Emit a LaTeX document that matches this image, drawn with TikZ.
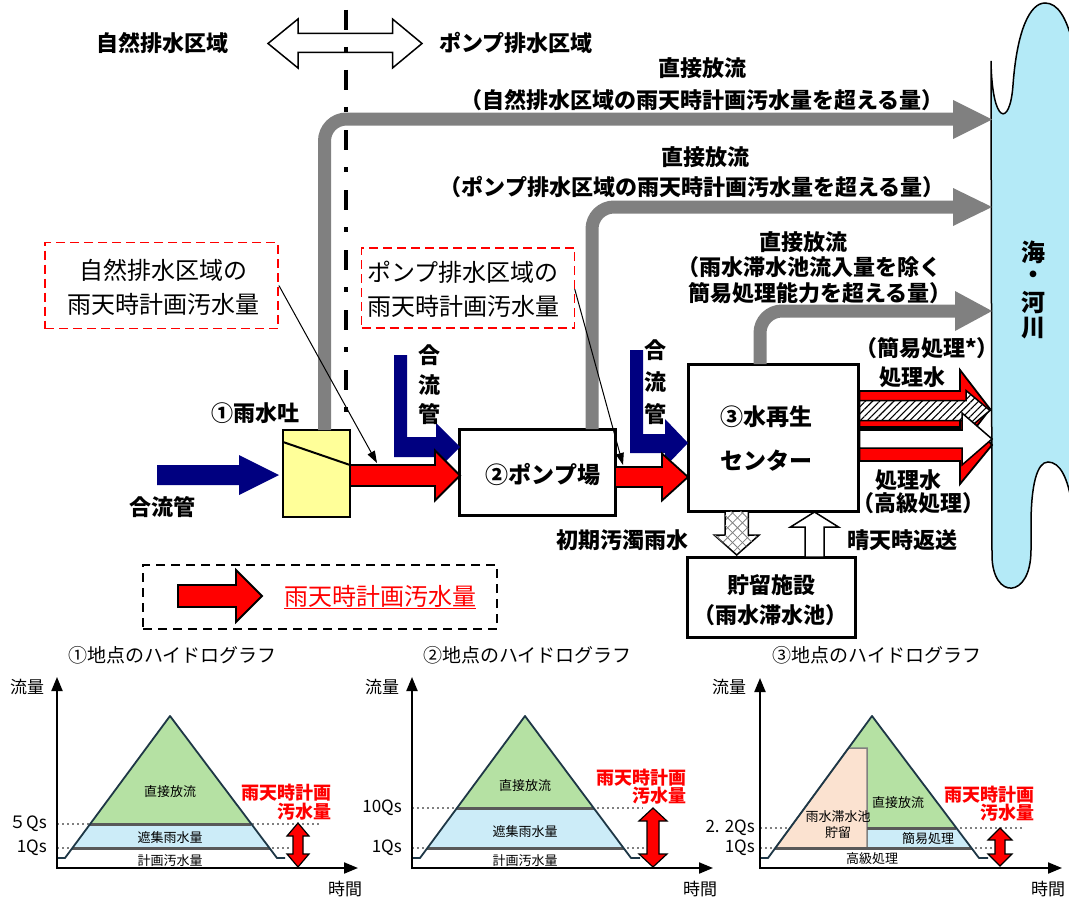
\documentclass[tikz,border=0pt]{standalone}
\usepackage{fontspec}
\setmainfont{Noto Sans CJK JP}
\usetikzlibrary{arrows.meta,patterns.meta}
\definecolor{navy}{RGB}{0,0,128}
\definecolor{grayarrow}{RGB}{128,128,128}
\definecolor{yel}{RGB}{255,255,153}
\definecolor{sea}{RGB}{180,234,247}
\definecolor{ggreen}{RGB}{181,225,163}
\definecolor{gblue}{RGB}{204,236,248}
\definecolor{gpeach}{RGB}{251,226,208}
\definecolor{gline}{RGB}{89,89,89}
\definecolor{goutline}{RGB}{30,55,70}
% horizontal block arrow: style, x0, xhead, xtip, ycenter, shaft half, head half
\newcommand{\harrow}[7]{\path[#1] (#2,{#5-#6}) -- (#3,{#5-#6}) -- (#3,{#5-#7}) -- (#4,#5) -- (#3,{#5+#7}) -- (#3,{#5+#6}) -- (#2,{#5+#6}) -- cycle;}
% vertical block arrow: style, y0, yhead, ytip, xcenter, shaft half, head half
\newcommand{\varrow}[7]{\path[#1] ({#5-#6},#2) -- ({#5-#6},#3) -- ({#5-#7},#3) -- (#5,#4) -- ({#5+#7},#3) -- ({#5+#6},#3) -- ({#5+#6},#2) -- cycle;}
% vertical double arrow: style, ytop, ybottom, xcenter, shaft half, head half, head length
\newcommand{\vdarrow}[7]{\path[#1] (#4,#2) -- ({#4+#6},{#2+#7}) -- ({#4+#5},{#2+#7}) -- ({#4+#5},{#3-#7}) -- ({#4+#6},{#3-#7}) -- (#4,#3) -- ({#4-#6},{#3-#7}) -- ({#4-#5},{#3-#7}) -- ({#4-#5},{#2+#7}) -- ({#4-#6},{#2+#7}) -- cycle;}
\tikzset{
 bl/.style={font=\bfseries\fontsize{22}{26}\selectfont, inner sep=0pt},
 rg/.style={font=\fontsize{24}{28}\selectfont, inner sep=0pt},
 blk/.style={draw=black, line width=3pt, fill=white, inner sep=0pt},
 redbox/.style={draw=red, line width=1.8pt, dash pattern=on 9pt off 5pt, inner sep=0pt},
 grayline/.style={draw=grayarrow, line width=13pt, rounded corners=22pt},
 redarrow/.style={fill=red, draw=black, line width=1.8pt},
 bluearrow/.style={fill=navy},
 whitearrow/.style={fill=white, draw=black, line width=1.5pt},
 hatcharrow/.style={preaction={fill=white}, pattern={Lines[angle=45,distance=5pt,line width=1.1pt]}, pattern color=black, draw=black, line width=1.5pt},
 crossarrow/.style={preaction={fill=white}, pattern={Lines[angle=45,distance=7pt,line width=0.8pt]}, pattern color=gray, postaction={pattern={Lines[angle=-45,distance=7pt,line width=0.8pt]}, pattern color=gray}, draw=black, line width=1.5pt},
 callout/.style={draw=black, line width=1pt, -{Triangle[length=12pt,width=8pt]}},
 gtitle/.style={font=\fontsize{19}{21}\selectfont, inner sep=0pt},
 glab/.style={font=\fontsize{17}{19}\selectfont, inner sep=0pt},
 gyl/.style={font=\fontsize{17}{19}\selectfont, inner sep=0pt, anchor=east},
 gaxis/.style={draw=black, line width=2pt, -{Triangle[length=14pt,width=11pt]}},
 gsmall/.style={font=\fontsize{13}{15}\selectfont, inner sep=0pt},
 gred/.style={font=\bfseries\fontsize{18}{20}\selectfont, text=red, inner sep=0pt, anchor=east},
 gdot/.style={draw=gray, line width=1.5pt, dash pattern=on 2pt off 3pt},
 glevel/.style={draw=gline, line width=3pt},
 gout/.style={draw=goutline, line width=1.8pt, line join=round},
 gdbl/.style={fill=red, draw=black, line width=1.2pt},
}
\begin{document}
\begin{tikzpicture}[x=1pt,y=-1pt]
\useasboundingbox (0,0) rectangle (1069,899);
\clip (0,0) rectangle (1069,899);
\fill[white] (0,0) rectangle (1069,899);

% sea / river
\path[fill=sea, draw=black, line width=1.5pt] (991,61) .. controls (992,125) and (1010,128) .. (1013,85) .. controls (1017,30) and (1030,3) .. (1045,3) .. controls (1058,3) and (1066,18) .. (1072,40) -- (1072,505) .. controls (1068,478) and (1060,462) .. (1048,462) .. controls (1037,462) and (1031,485) .. (1031,525) -- (1031,550) .. controls (1031,600) and (992,600) .. (992,555) -- cycle;
\node[font=\bfseries\fontsize{24}{26}\selectfont, inner sep=0pt] (s1) at (1033,252) {海};
\node[font=\bfseries\fontsize{24}{26}\selectfont, inner sep=0pt] (s2) at (1033,277) {・};
\node[font=\bfseries\fontsize{24}{26}\selectfont, inner sep=0pt] (s3) at (1033,303) {河};
\node[font=\bfseries\fontsize{24}{26}\selectfont, inner sep=0pt] (s4) at (1033,328) {川};

% boxes
\node[draw=black, line width=2.5pt, fill=yel, minimum width=67pt, minimum height=87pt, inner sep=0pt] (uy) at (316.5,473.5) {};
\draw[line width=2pt] (283,442) -- (350,465);
\node[blk, minimum width=156pt, minimum height=86pt] (pump) at (537,472) {};
\node[blk, minimum width=170pt, minimum height=147pt] (wrc) at (773,437.5) {};
\node[blk, minimum width=168pt, minimum height=80pt] (stor) at (771,597) {};

% gray direct-discharge arrows
\draw[grayline] (324.5,430) -- (324.5,119) -- (955,119);
\fill[grayarrow] (953,100) -- (992,119.5) -- (953,139) -- cycle;
\draw[grayline] (592,429) -- (592,207) -- (955,207);
\fill[grayarrow] (953,188) -- (992,207) -- (953,226) -- cycle;
\draw[grayline] (760,364) -- (760,311) -- (957,311);
\fill[grayarrow] (955,291) -- (992,311) -- (955,331) -- cycle;

% area double arrow and boundary
\path[whitearrow] (268,43.5) -- (298,19) -- (298,33.5) -- (392.5,33.5) -- (392.5,19) -- (422,43.5) -- (392.5,68) -- (392.5,52.5) -- (298,52.5) -- (298,68) -- cycle;
\draw[line width=4pt, dash pattern=on 20pt off 17pt on 5pt off 18pt] (346,10) -- (346,428);

\node[bl] (lnat) at (162,43) {自然排水区域};
\node[bl] (lpmp) at (516,43) {ポンプ排水区域};
\node[bl] at (702,68) {直接放流};
\node[bl] at (702,100) {（自然排水区域の雨天時計画汚水量を超える量）};
\node[bl] at (705,157) {直接放流};
\node[bl] at (692,187) {（ポンプ排水区域の雨天時計画汚水量を超える量）};
\node[bl] at (803,242) {直接放流};
\node[bl] at (809,267) {（雨水滞水池流入量を除く};
\node[bl] at (820,293) {簡易処理能力を超える量）};

% red dashed callout boxes
\node[redbox, minimum width=233pt, minimum height=86pt] (nb) at (161.5,285.5) {};
\node[rg] at (163,270) {自然排水区域の};
\node[rg] at (163,304) {雨天時計画汚水量};
\node[redbox, minimum width=213pt, minimum height=80pt] (pb) at (468,288) {};
\node[rg, anchor=west] at (367,272) {ポンプ排水区域の};
\node[rg, anchor=west] at (367,306) {雨天時計画汚水量};

% blue combined-sewer arrows
\harrow{bluearrow}{157}{239}{279}{475}{10}{20}
\path[bluearrow] (394,355) -- (407,355) -- (407,437) -- (436,437) -- (436,423) -- (460,447) -- (436,471) -- (436,457) -- (394,457) -- cycle;
\path[bluearrow] (630,350) -- (643,350) -- (643,434) -- (665,434) -- (665,419) -- (688,443) -- (665,467) -- (665,453) -- (630,453) -- cycle;

% red arrows
\harrow{redarrow}{350}{435}{460}{475.5}{10.5}{25}
\harrow{redarrow}{615}{662}{688}{477}{10}{23.5}

\draw[callout] (nb.east) ++(0,0) -- (377,463);
\draw[callout] (574.7,289) -- (623,465);

% outgoing treated water arrows
\harrow{redarrow}{859.5}{960}{990}{409}{18}{39}
\harrow{redarrow}{859.5}{960}{992}{445}{16}{39}
\harrow{hatcharrow}{859.5}{966}{990}{410.5}{10}{20}
\harrow{whitearrow}{859.5}{962}{992}{439}{9}{26}

% storage arrows
\varrow{crossarrow}{511}{535}{555}{736.7}{11.7}{22.5}
\varrow{whitearrow}{557}{527}{512}{814.5}{9.5}{24}

% labels
\node[bl] at (255,413) {①雨水吐};
\node[bl] at (162,507) {合流管};
\node[bl] at (429,355) {合};
\node[bl] at (429,385) {流};
\node[bl] at (429,414) {管};
\node[bl] at (655,350) {合};
\node[bl] at (655,382) {流};
\node[bl] at (655,414) {管};
\node[font=\bfseries\fontsize{23}{26}\selectfont, inner sep=0pt] at (543,475) {②ポンプ場};
\node[font=\bfseries\fontsize{23}{26}\selectfont, inner sep=0pt] at (766,417) {③水再生};
\node[font=\bfseries\fontsize{23}{26}\selectfont, inner sep=0pt] at (766,461) {センター};
\node[bl] at (927,348) {（簡易処理*）};
\node[bl] at (912,377) {処理水};
\node[bl] at (908,480) {処理水};
\node[bl] at (918,503) {（高級処理）};
\node[bl] at (622,540) {初期汚濁雨水};
\node[bl] at (902,540) {晴天時返送};
\node[bl] at (771,585) {貯留施設};
\node[bl] at (770,615) {（雨水滞水池）};

% legend
\node[draw=black, line width=2pt, dash pattern=on 9pt off 6pt, minimum width=354pt, minimum height=64pt, inner sep=0pt] (leg) at (320,597) {};
\harrow{redarrow}{178}{236}{262}{596}{11}{26}
\node[rg, text=red] (legt) at (380,597) {\underline{雨天時計画汚水量}};

% ---------- hydrograph 1 ----------
\node[gtitle] at (172.5,655) {①地点のハイドログラフ};
\node[glab] at (27,687) {流量};
\node[glab] at (345,889) {時間};
\draw[gdot] (57,824) -- (320,824);
\draw[gdot] (57,848) -- (290,848);
\fill[ggreen] (90.1,824) -- (170,716) -- (251.4,824) -- cycle;
\fill[gblue] (72.4,848) -- (90.1,824) -- (251.4,824) -- (269.5,848) -- cycle;
\draw[glevel] (90.1,824) -- (251.4,824);
\draw[glevel] (72.4,848) -- (269.5,848);
\draw[gout] (57,858) -- (65,858) -- (170,716) -- (277,858) -- (285,858);
\draw[gaxis] (57,869) -- (57,677);
\draw[gaxis] (56,868) -- (358,868);
\node[gyl] at (47,824) {５Qs};
\node[gyl] at (47,848) {1Qs};
\node[gsmall] at (170,792) {直接放流};
\node[gsmall] at (170,838) {遮集雨水量};
\node[gsmall] at (170,861) {計画汚水量};
\node[gred] at (332,793) {雨天時計画};
\node[gred] at (332,812) {汚水量};
\vdarrow{gdbl}{823}{867}{298}{5}{11}{13}

% ---------- hydrograph 2 ----------
\node[gtitle] at (527.5,655) {②地点のハイドログラフ};
\node[glab] at (382,687) {流量};
\node[glab] at (700,889) {時間};
\draw[gdot] (412,808) -- (643,808);
\draw[gdot] (412,848) -- (645,848);
\fill[ggreen] (457,808) -- (525,716) -- (593.7,808) -- cycle;
\fill[gblue] (427.4,848) -- (457,808) -- (593.7,808) -- (623.5,848) -- cycle;
\draw[glevel] (457,808) -- (593.7,808);
\draw[glevel] (427.4,848) -- (623.5,848);
\draw[gout] (412,858) -- (420,858) -- (525,716) -- (631,858) -- (640,858);
\draw[gaxis] (412,869) -- (412,677);
\draw[gaxis] (411,868) -- (713,868);
\node[gyl] at (402,808) {10Qs};
\node[gyl] at (402,848) {1Qs};
\node[gsmall] at (525,786) {直接放流};
\node[gsmall] at (525,832) {遮集雨水量};
\node[gsmall] at (525,861) {計画汚水量};
\node[gred] at (687,778) {雨天時計画};
\node[gred] at (687,796) {汚水量};
\vdarrow{gdbl}{808}{867}{653}{6}{14}{13}

% ---------- hydrograph 3 ----------
\node[gtitle] at (877,655) {③地点のハイドログラフ};
\node[glab] at (729,687) {流量};
\node[glab] at (1048,889) {時間};
\draw[gdot] (760,828) -- (1022,828);
\draw[gdot] (760,848) -- (992,848);
\fill[ggreen] (848.6,748) -- (872,716) -- (956.4,828) -- (867,828) -- (867,748) -- cycle;
\fill[gblue] (867,828) -- (956.4,828) -- (971.5,848) -- (867,848) -- cycle;
\path[fill=gpeach, draw=gray, line width=1.5pt] (775.3,848) -- (848.6,748) -- (867,748) -- (867,848) -- cycle;
\draw[glevel] (867,828) -- (956.4,828);
\draw[glevel] (775.3,848) -- (971.5,848);
\draw[gout] (760,858) -- (768,858) -- (872,716) -- (979,858) -- (988,858);
\draw[gaxis] (760,869) -- (760,678);
\draw[gaxis] (759,868) -- (1062,868);
\node[gyl] at (755,828) {2. 2Qs};
\node[gyl] at (755,848) {1Qs};
\node[gsmall] at (838,817) {雨水滞水池};
\node[gsmall] at (838,833) {貯留};
\node[gsmall] at (898,803) {直接放流};
\node[gsmall] at (928,839) {簡易処理};
\node[gsmall] at (872,859) {高級処理};
\node[gred] at (1035,795) {雨天時計画};
\node[gred] at (1035,813) {汚水量};
\vdarrow{gdbl}{828}{866}{1000}{5}{12}{12}
\end{tikzpicture}
\end{document}
